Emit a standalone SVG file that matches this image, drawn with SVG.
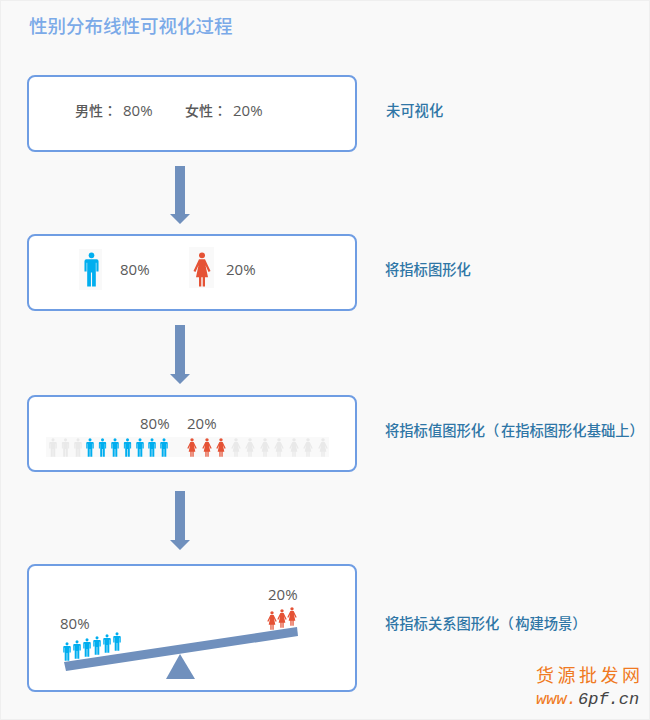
<svg xmlns="http://www.w3.org/2000/svg" width="650" height="720" viewBox="0 0 650 720">
<style>
.box{fill:#fff;stroke:#6f9de3;stroke-width:2}
.t{font-family:"Noto Sans CJK SC","Noto Sans",sans-serif}
.p{font-family:"Noto Sans CJK TC","Noto Sans",sans-serif}
.title{font-size:18.500px;font-weight:500;fill:#7baae8}
.lab{font-size:14.300px;font-weight:500;fill:#2f76a6}
.val{font-size:14px;font-weight:500;fill:#5a5a5a}
.pct{font-family:"Open Sans","Noto Sans",sans-serif;font-size:15px;font-weight:500;fill:#5a5a5a}
.arrow{fill:#7090bd}
.m{fill:#00aeef}.w{fill:#e55235}.g{fill:#e9e9e9}
.wm{font-size:18px;fill:#f07a22;letter-spacing:3.500px}
.wu{font-family:"Liberation Mono",monospace;font-size:17px;font-style:italic}
</style>
<defs>
<symbol id="man" viewBox="0 0 16 36" preserveAspectRatio="none">
<circle cx="8" cy="3.400" r="3"/>
<path d="M2.500 7.500H13.500Q15.500 7.500 15.500 9.500V20H13.200V11H12.600V35.500H8.600V21H7.400V35.500H3.400V11H2.800V20H.5V9.500Q.5 7.500 2.500 7.500Z"/>
</symbol>
<symbol id="woman" viewBox="0 0 18 36" preserveAspectRatio="none">
<circle cx="9" cy="3.400" r="3"/>
<path d="M6 7.500H12L17.500 19.500L15.500 20.500L12.500 13.500L15 26H12V35.500H9.700V26H8.300V35.500H6V26H3L5.500 13.500L2.500 20.500L.5 19.500Z"/>
</symbol>
</defs>
<rect x="0.500" y="0.500" width="649" height="719" fill="#f9f9f9" stroke="#efefef"/>
<text class="t title" x="29" y="33">性别分布线性可视化过程</text>

<g id="connectors">
<path class="arrow" d="M175 166H185V214H190L180 224L170 214H175Z"/>
<path class="arrow" d="M175 325H185V374H190L180 384L170 374H175Z"/>
<path class="arrow" d="M175 491H185V540H190L180 550L170 540H175Z"/>
</g>

<g id="node-1">
<rect class="box" x="28" y="76" width="328" height="75" rx="7"/>
<text class="t val" x="75" y="116">男性<tspan class="p">：</tspan></text>
<text class="pct" x="123" y="116">80%</text>
<text class="t val" x="185" y="116">女性<tspan class="p">：</tspan></text>
<text class="pct" x="233" y="116">20%</text>
<text class="t lab" x="386" y="116">未可视化</text>
</g>

<g id="node-2">
<rect class="box" x="28" y="235" width="328" height="75" rx="7"/>
<rect x="79" y="249" width="23" height="41" fill="#f9f9f9"/>
<rect x="189" y="247" width="25" height="41" fill="#f9f9f9"/>
<use href="#man" class="m" x="84" y="252" width="15" height="35"/>
<use href="#woman" class="w" x="193" y="252" width="18" height="35"/>
<text class="pct" x="120" y="275">80%</text>
<text class="pct" x="226" y="275">20%</text>
<text class="t lab" x="385" y="275">将指标图形化</text>
</g>

<g id="node-3">
<rect class="box" x="28" y="396" width="328" height="75" rx="7"/>
<rect x="46" y="437" width="283" height="20" fill="#f9f9f9"/>
<text class="pct" x="140" y="429">80%</text>
<text class="pct" x="187" y="429">20%</text>
<g class="g">
<use href="#man" x="49" y="438" width="8" height="19"/>
<use href="#man" x="61.500" y="438" width="8" height="19"/>
<use href="#man" x="74" y="438" width="8" height="19"/>
</g>
<g class="m">
<use href="#man" x="86" y="438" width="8" height="19"/>
<use href="#man" x="98.500" y="438" width="8" height="19"/>
<use href="#man" x="111" y="438" width="8" height="19"/>
<use href="#man" x="123.500" y="438" width="8" height="19"/>
<use href="#man" x="136" y="438" width="8" height="19"/>
<use href="#man" x="148" y="438" width="8" height="19"/>
<use href="#man" x="160" y="438" width="8" height="19"/>
</g>
<g class="w">
<use href="#woman" x="187" y="438" width="10" height="19"/>
<use href="#woman" x="202" y="438" width="10" height="19"/>
<use href="#woman" x="216" y="438" width="10" height="19"/>
</g>
<g class="g">
<use href="#woman" x="231" y="438" width="10" height="19"/>
<use href="#woman" x="245" y="438" width="10" height="19"/>
<use href="#woman" x="260" y="438" width="10" height="19"/>
<use href="#woman" x="274" y="438" width="10" height="19"/>
<use href="#woman" x="289" y="438" width="10" height="19"/>
<use href="#woman" x="303" y="438" width="10" height="19"/>
<use href="#woman" x="318" y="438" width="10" height="19"/>
</g>
<text class="t lab" x="385" y="436">将指标值图形化<tspan class="p">（</tspan><tspan dx="1.500">在指标图形化基础上</tspan><tspan class="p">）</tspan></text>
</g>

<g id="node-4">
<rect class="box" x="28" y="565" width="328" height="126" rx="7"/>
<polygon class="arrow" points="64,662 297,627 298,636 66,671"/>
<polygon class="arrow" points="180,654 195,679 166,679"/>
<text class="pct" x="60" y="629">80%</text>
<text class="pct" x="268" y="600">20%</text>
<g class="m">
<use href="#man" x="63" y="642" width="8" height="19"/>
<use href="#man" x="73" y="640" width="8" height="19"/>
<use href="#man" x="83" y="638" width="8" height="19"/>
<use href="#man" x="93" y="636" width="8" height="19"/>
<use href="#man" x="103" y="634" width="8" height="19"/>
<use href="#man" x="113" y="632" width="8" height="19"/>
</g>
<g class="w">
<use href="#woman" x="267" y="611" width="10" height="19"/>
<use href="#woman" x="277" y="609" width="10" height="19"/>
<use href="#woman" x="287" y="607" width="10" height="19"/>
</g>
<text class="t lab" x="385" y="629">将指标关系图形化<tspan class="p">（</tspan><tspan dx="1.500">构建场景</tspan><tspan class="p">）</tspan></text>
</g>

<g id="watermark">
<text class="t wm" x="536" y="682">货源批发网</text>
<text class="wu" x="536" y="704" fill="#f07a22">www.</text>
<text class="wu" x="578" y="704" fill="#444">6pf.cn</text>
</g>
</svg>
